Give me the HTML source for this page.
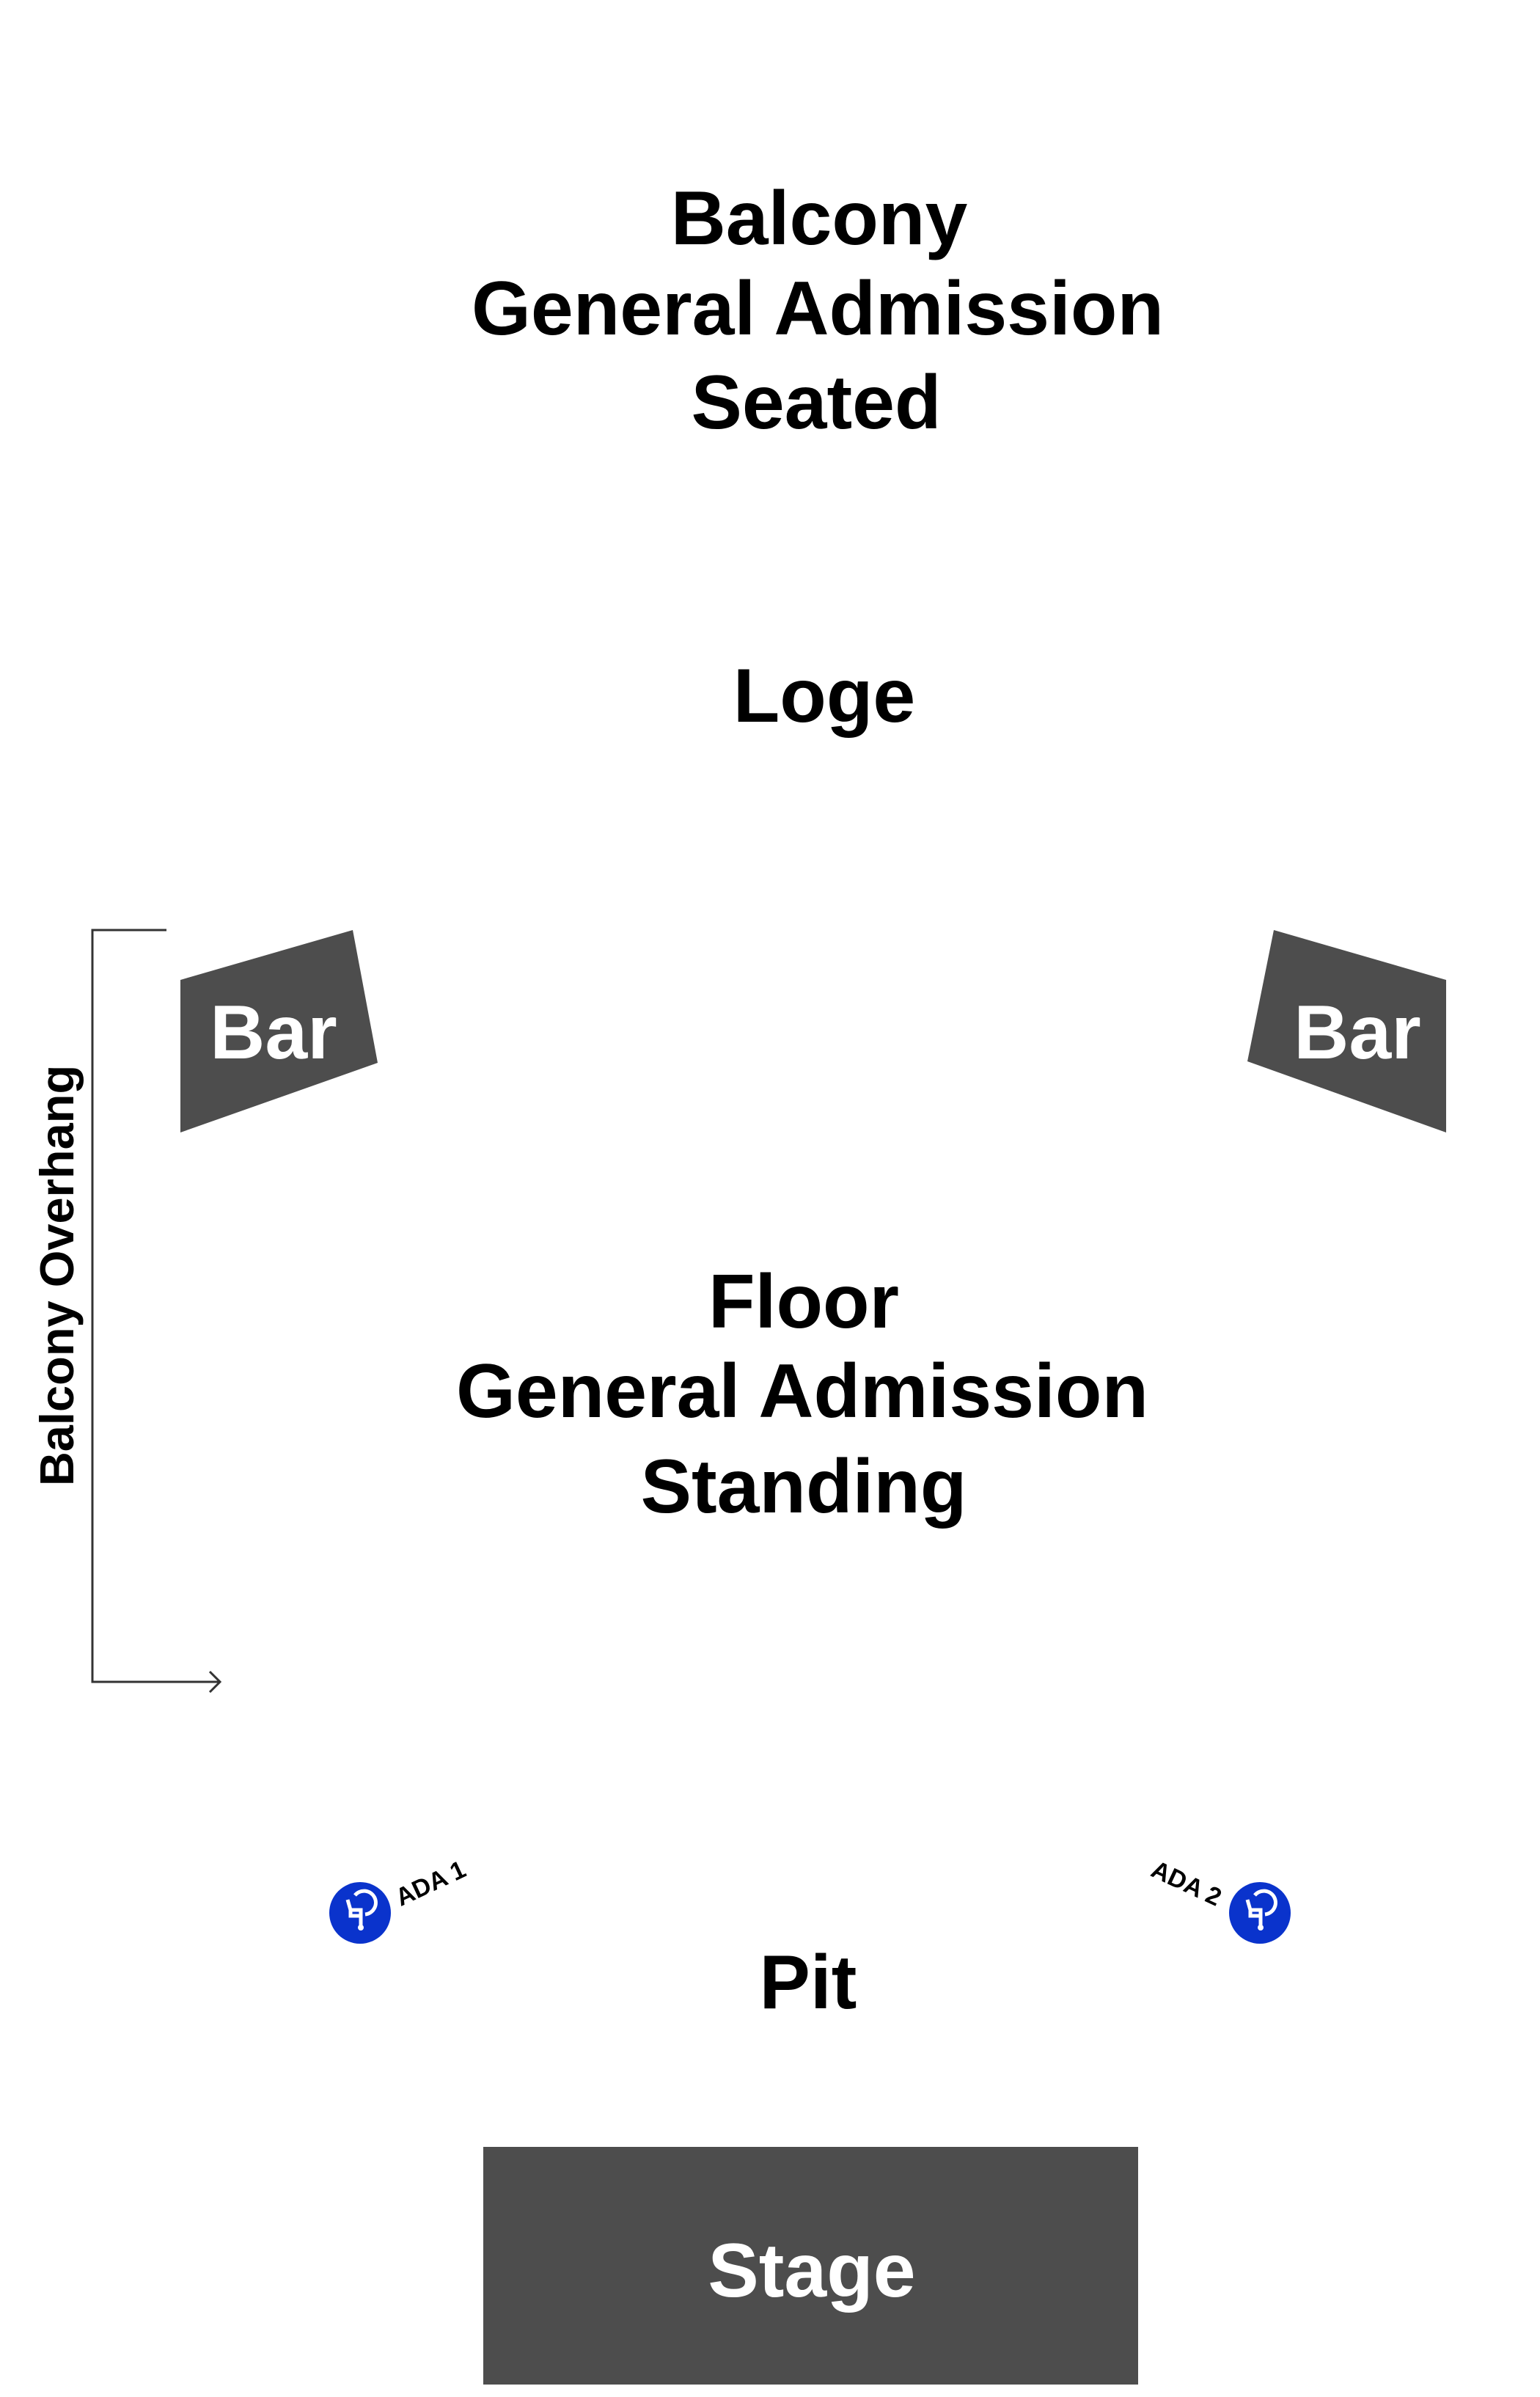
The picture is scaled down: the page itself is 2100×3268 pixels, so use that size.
<!DOCTYPE html>
<html><head><meta charset="utf-8"><style>
html,body{margin:0;padding:0;background:#fff;}
svg{display:block;}
text{font-family:"Liberation Sans",Arial,sans-serif;font-weight:bold;}
</style></head><body>
<svg width="2100" height="3268" viewBox="0 0 2100 3268" xmlns="http://www.w3.org/2000/svg">
<rect width="2100" height="3268" fill="#fff"/>
<g text-anchor="middle" font-size="104" fill="#000">
<text x="1117" y="333">Balcony</text>
<text x="1115" y="456">General Admission</text>
<text x="1113" y="584">Seated</text>
<text x="1124" y="984">Loge</text>
<text x="1096" y="1810">Floor</text>
<text x="1094" y="1932">General Admission</text>
<text x="1096" y="2062">Standing</text>
<text x="1102" y="2738">Pit</text>
</g>
<path d="M227 1268 H126 V2293 H298" fill="none" stroke="#333" stroke-width="3"/>
<path d="M286 2279 L300 2293 L286 2307" fill="none" stroke="#333" stroke-width="3"/>
<text transform="translate(100 1739) rotate(-90)" text-anchor="middle" font-size="65" fill="#000">Balcony Overhang</text>
<polygon points="246,1336 481,1268 515,1449 246,1544" fill="#4d4d4d"/>
<text x="373" y="1443" text-anchor="middle" font-size="104" fill="#fff">Bar</text>
<polygon points="1737,1268 1972,1336 1972,1544 1701,1447" fill="#4d4d4d"/>
<text x="1851" y="1443" text-anchor="middle" font-size="104" fill="#fff">Bar</text>
<g>
<circle cx="491" cy="2608" r="42" fill="#0a33cc"/>
<path d="M474 2590 l4 14 l14 0 l0 22 M478 2604 l0 8 l12 0 M484 2584 a16 16 0 1 1 14 26" fill="none" stroke="#fff" stroke-width="5"/>
<circle cx="492" cy="2628" r="4" fill="#fff"/>
<text transform="translate(592 2578) rotate(-25)" text-anchor="middle" font-size="34" fill="#000">ADA 1</text>
</g>
<g>
<circle cx="1718" cy="2608" r="42" fill="#0a33cc"/>
<path d="M1701 2590 l4 14 l14 0 l0 22 M1705 2604 l0 8 l12 0 M1711 2584 a16 16 0 1 1 14 26" fill="none" stroke="#fff" stroke-width="5"/>
<circle cx="1719" cy="2628" r="4" fill="#fff"/>
<text transform="translate(1613 2578) rotate(25)" text-anchor="middle" font-size="34" fill="#000">ADA 2</text>
</g>
<rect x="659" y="2927" width="893" height="324" fill="#4d4d4d"/>
<text x="1107" y="3131" text-anchor="middle" font-size="104" fill="#fff">Stage</text>
</svg>
</body></html>
